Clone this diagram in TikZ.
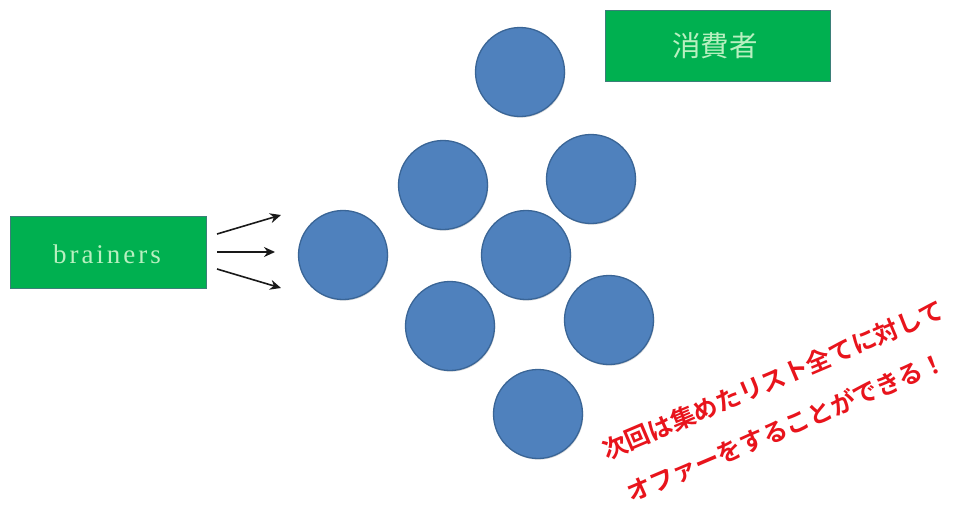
\documentclass[tikz,border=0pt]{standalone}
\usepackage{fontspec}
\setmainfont{Liberation Serif}
\newfontfamily\cjk{Noto Sans CJK JP}
\newfontfamily\cjkb{Noto Sans CJK JP Bold}
\newfontfamily\wideserif[LetterSpace=11]{Liberation Serif}
\usetikzlibrary{arrows.meta,shadows}
\definecolor{boxgreen}{HTML}{00B050}
\definecolor{boxedge}{HTML}{3B7F78}
\definecolor{txtgreen}{HTML}{B8F0C0}
\definecolor{dotblue}{HTML}{4F81BD}
\definecolor{dotedge}{HTML}{3A6596}
\definecolor{redtxt}{HTML}{E8141C}
\tikzset{
  x=1pt,y=-1pt,
  greenbox/.style={draw=boxedge,line width=1pt,fill=boxgreen,text=txtgreen,inner sep=0pt,anchor=north west},
  dot/.style={circle,draw=dotedge,line width=1.3pt,fill=dotblue,minimum size=89pt,inner sep=0pt,
    drop shadow={opacity=0.3,shadow xshift=0.8pt,shadow yshift=-1.2pt}},
  arr/.style={-{Stealth[length=11pt,width=10pt]},line width=1.6pt,black!90},
  redline/.style={text=redtxt,font=\cjkb\fontsize{24.6pt}{26pt}\selectfont,rotate=23,inner sep=0pt}
}
\begin{document}
\begin{tikzpicture}
\useasboundingbox (0,0) rectangle (953,504);
\node[greenbox,minimum width=196pt,minimum height=72pt] (brainers) at (10,216) {};
\node[text=txtgreen,font=\wideserif\fontsize{27pt}{29pt}\selectfont] (brainerstxt) at (107,254) {brainers};
\node[greenbox,minimum width=225pt,minimum height=71pt] (consumer) at (605,10) {};
\node[text=txtgreen,font=\cjk\fontsize{28.5pt}{30pt}\selectfont] (consumertxt) at (715,46) {消費者};
\node[dot] (c1) at (520,72) {};
\node[dot] (c2) at (443,185) {};
\node[dot] (c3) at (591,179) {};
\node[dot] (c4) at (343,255) {};
\node[dot] (c5) at (526,255) {};
\node[dot] (c6) at (450,326) {};
\node[dot] (c7) at (609,320) {};
\node[dot] (c8) at (538,414) {};
\coordinate (a1s) at (217,234); \coordinate (a1e) at (281,215);
\coordinate (a2s) at (217,252); \coordinate (a2e) at (275,252);
\coordinate (a3s) at (217,269); \coordinate (a3e) at (281,288);
\draw[arr] (a1s) -- (a1e);
\draw[arr] (a2s) -- (a2e);
\draw[arr] (a3s) -- (a3e);
\node[redline] (l1) at (773,380) {次回は集めたリスト全てに対して};
\node[redline] (l2) at (786,427) {オファーをすることができる！};
\end{tikzpicture}
\end{document}
